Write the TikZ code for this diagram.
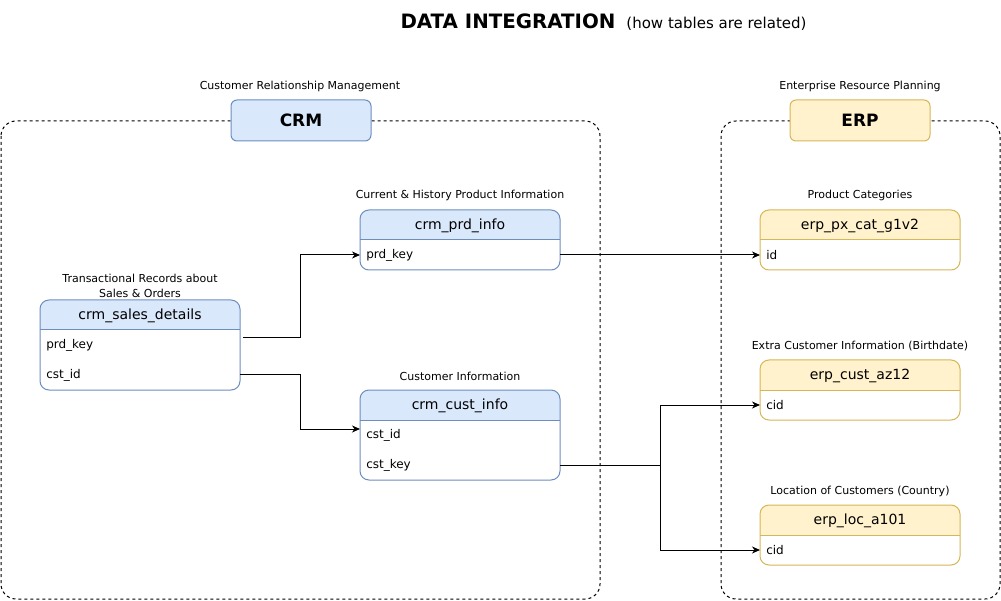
\documentclass[tikz,border=0pt]{standalone}
\usepackage{fontspec}
\setmainfont{DejaVu Sans}
\usetikzlibrary{arrows.meta}

\definecolor{crmfill}{RGB}{218,232,252}
\definecolor{crmedge}{RGB}{108,142,191}
\definecolor{erpfill}{RGB}{255,242,204}
\definecolor{erpedge}{RGB}{214,182,86}

\tikzset{every picture/.style={line width=1pt}}
\tikzset{
  lbl/.style={inner sep=0.75pt, align=center, font=\fontsize{11}{15}\selectfont},
  hdr/.style={inner sep=0.75pt, font=\fontsize{14}{16}\selectfont},
  fld/.style={anchor=west, inner sep=0.75pt, font=\fontsize{12}{14}\selectfont},
  zone/.style={draw, dash pattern=on 3pt off 3pt, rounded corners=15pt},
  sysbox/.style={draw, rounded corners=6pt, minimum width=140pt, minimum height=41pt, inner sep=0pt, font=\bfseries\fontsize{17}{20}\selectfont},
  tbl/.style={draw, fill=white, rounded corners=9pt, minimum width=200pt, inner sep=0pt, outer sep=0pt},
  crmtbl/.style={tbl, draw=crmedge, path picture={\fill[crmfill, sharp corners] (path picture bounding box.north west) rectangle ([yshift=-30pt]path picture bounding box.north east);}},
  erptbl/.style={tbl, draw=erpedge, path picture={\fill[erpfill, sharp corners] (path picture bounding box.north west) rectangle ([yshift=-30pt]path picture bounding box.north east);}},
  link/.style={-{Stealth[length=8pt,width=7pt,inset=2.5pt]}},
}

\begin{document}
\begin{tikzpicture}[x=1pt,y=1pt,yscale=-1,xscale=1]
\useasboundingbox (0,0) rectangle (1001,601);

% Title
\draw (400,29) node [anchor=base west,inner sep=0pt] (title) {{\bfseries\fontsize{19.8}{22}\selectfont DATA INTEGRATION}\hspace{11pt}{\fontsize{15}{17}\selectfont (how tables are related)}};

%Dashed zones
\draw [zone] (1,121) rectangle (600,599);
\draw [zone] (721,121) rectangle (1000,599);

%Source systems
\node [sysbox, fill=crmfill, draw=crmedge] (crm) at (301,120.5) {CRM};
\node [sysbox, fill=erpfill, draw=erpedge] (erp) at (860,120.5) {ERP};
% Text Node
\node [lbl] (crmlbl) at (300,86) {Customer Relationship Management};
% Text Node
\node [lbl] (erplbl) at (860,86) {Enterprise Resource Planning};

%Table crm_sales_details
\node [crmtbl, minimum height=90pt] (sales) at (140,345) {};
\draw [crmedge] (sales.north west) ++(0,30) -- ++(200,0);
\node [hdr] (saleshdr) at (140,315.5) {crm\_sales\_details};
\node [fld] (salesprd) at (45,345) {prd\_key};
\node [fld] (salescst) at (45,375) {cst\_id};
\node [lbl] (saleslbl) at (140,285.5) {Transactional Records about\\Sales \& Orders};

%Table crm_prd_info
\node [crmtbl, minimum height=60pt] (prd) at (460,240) {};
\draw [crmedge] (prd.north west) ++(0,30) -- ++(200,0);
\node [hdr] (prdhdr) at (460,225.5) {crm\_prd\_info};
\node [fld] (prdkey) at (365,255) {prd\_key};
\node [lbl] (prdlbl) at (460,195) {Current \& History Product Information};

%Table crm_cust_info
\node [crmtbl, minimum height=90pt] (cust) at (460,435) {};
\draw [crmedge] (cust.north west) ++(0,30) -- ++(200,0);
\node [hdr] (custhdr) at (460,405.5) {crm\_cust\_info};
\node [fld] (custid) at (365,435) {cst\_id};
\node [fld] (custkey) at (365,465) {cst\_key};
\node [lbl] (custlbl) at (460,376) {Customer Information};

%Table erp_px_cat_g1v2
\node [erptbl, minimum height=60pt] (pxcat) at (860,240) {};
\draw [erpedge] (pxcat.north west) ++(0,30) -- ++(200,0);
\node [hdr] (pxcathdr) at (860,225.5) {erp\_px\_cat\_g1v2};
\node [fld] (pxid) at (765,255) {id};
\node [lbl] (pxcatlbl) at (860,195) {Product Categories};

%Table erp_cust_az12
\node [erptbl, minimum height=60pt] (custaz) at (860,390) {};
\draw [erpedge] (custaz.north west) ++(0,30) -- ++(200,0);
\node [hdr] (custazhdr) at (860,375.5) {erp\_cust\_az12};
\node [fld] (azcid) at (765,405) {cid};
\node [lbl] (custazlbl) at (860,346) {Extra Customer Information (Birthdate)};

%Table erp_loc_a101
\node [erptbl, minimum height=60pt] (loc) at (860,535) {};
\draw [erpedge] (loc.north west) ++(0,30) -- ++(200,0);
\node [hdr] (lochdr) at (860,520.5) {erp\_loc\_a101};
\node [fld] (loccid) at (765,550) {cid};
\node [lbl] (loclbl) at (860,491) {Location of Customers (Country)};

%Connectors
\coordinate (salesout) at (243,338);
\coordinate (custin) at (360,429);
\coordinate (split) at (660,465);
\draw [link] (salesout) -- (300,338) |- (prd.west |- prdkey);
\draw [link] (sales.east |- salescst) -- (300,375) |- (custin);
\draw [link] (prd.east |- prdkey) -- (pxcat.west |- pxid);
\draw (cust.east |- custkey) -- (split);
\draw [link] (split) |- (custaz.west |- azcid);
\draw [link] (split) |- (loc.west |- loccid);
\end{tikzpicture}
\end{document}
